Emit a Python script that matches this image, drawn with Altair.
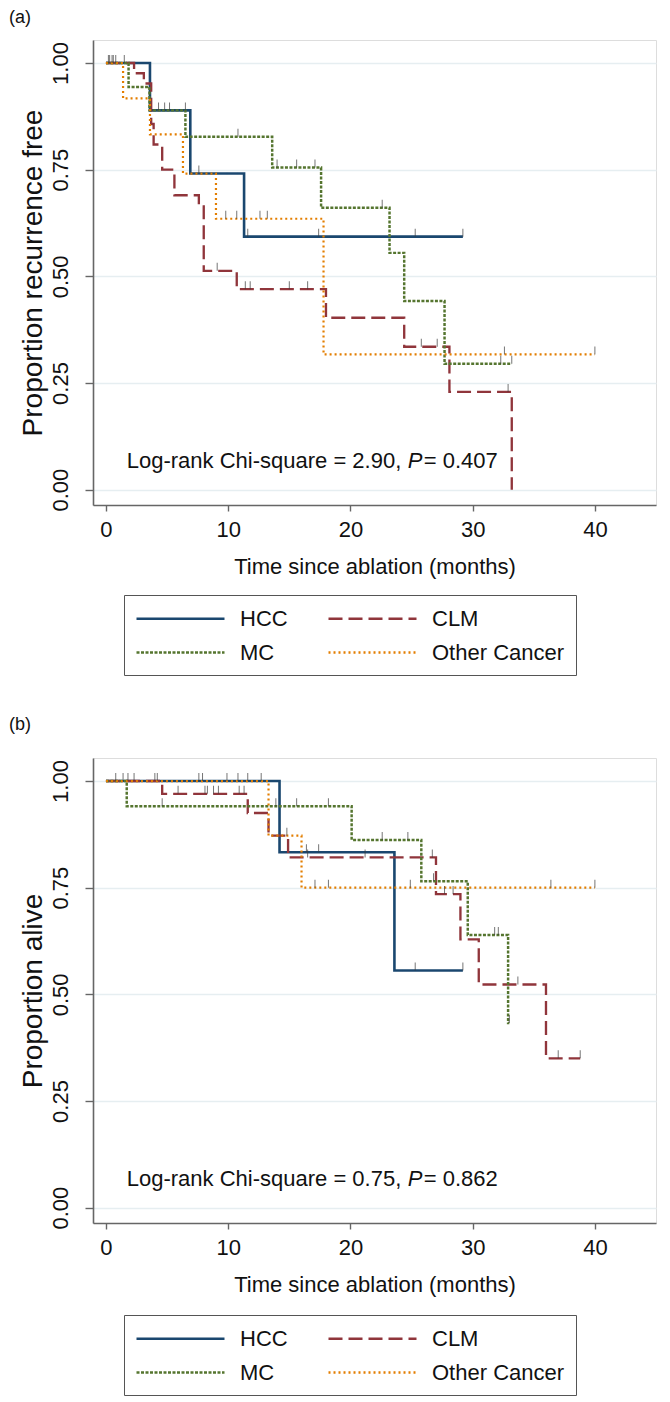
import altair as alt
import pandas as pd

FONT = "Liberation Sans"
GROUPS = ["HCC", "MC", "CLM", "Other Cancer"]
COLORS = ["#1a476f", "#55752f", "#90353b", "#e37e00"]
DASHES = [[1, 0], [3, 1.5], [14, 6], [2, 3]]
WIDTHS = [2.6, 2.2, 2.6, 2.2]

X_TICKS = [0, 10, 20, 30, 40]
Y_TICKS = [0.0, 0.25, 0.5, 0.75, 1.0]

# ---- Panel (a): recurrence free ----
a_hcc_t = [0, 3.6, 6.9, 11.3]
a_hcc_s = [1.0, 0.889, 0.741, 0.593]
a_hcc_end = 29.2
a_hcc_c = [0.3, 0.6, 4.3, 4.8, 5.2, 6.5, 7.6, 11.6, 17.4, 25.3, 29.2]

a_clm_t = [0, 2.3, 3.1, 3.7, 3.9, 4.6, 5.6, 7.6, 8.0, 10.7, 18.0, 24.4, 28.1, 33.2]
a_clm_s = [1.0, 0.976, 0.952, 0.857, 0.809, 0.75, 0.69, 0.664, 0.513, 0.47, 0.403, 0.335, 0.229, 0.0]
a_clm_end = 33.2
a_clm_c = [9.1, 11.4, 11.8, 15.0, 16.5, 25.8, 27.1, 32.9]

a_mc_t = [0, 1.85, 3.56, 6.5, 13.6, 17.6, 23.2, 24.4, 27.7]
a_mc_s = [1.0, 0.944, 0.889, 0.827, 0.755, 0.661, 0.555, 0.442, 0.295]
a_mc_end = 33.2
a_mc_c = [0.5, 1.5, 10.8, 14.0, 15.6, 17.1, 22.6, 32.3, 33.2]

a_oth_t = [0, 1.4, 3.6, 6.3, 9.0, 17.8]
a_oth_s = [1.0, 0.917, 0.833, 0.741, 0.635, 0.317]
a_oth_end = 40.0
a_oth_c = [0.2, 0.8, 9.8, 10.7, 12.6, 13.2, 32.6, 40.0]

# ---- Panel (b): overall survival ----
b_hcc_t = [0, 14.2, 23.6]
b_hcc_s = [1.0, 0.833, 0.556]
b_hcc_end = 29.2
b_hcc_c = [0.8, 2.3, 4.2, 7.9, 10.8, 12.7, 16.4, 17.4, 25.3, 29.2]

b_clm_t = [0, 4.6, 11.6, 13.3, 14.9, 27.0, 29.0, 30.5, 36.0]
b_clm_s = [1.0, 0.970, 0.925, 0.872, 0.821, 0.735, 0.629, 0.523, 0.35]
b_clm_end = 38.8
b_clm_c = [1.8, 5.9, 8.1, 8.3, 8.8, 9.2, 10.9, 11.3, 16.5, 21.2, 26.7, 27.7, 28.4, 33.7, 37.0, 38.8]

b_mc_t = [0, 1.7, 20.1, 25.8, 29.6, 32.9]
b_mc_s = [1.0, 0.941, 0.862, 0.765, 0.639, 0.433]
b_mc_end = 33.0
b_mc_c = [4.6, 13.9, 15.6, 18.2, 22.6, 24.7, 26.8, 31.8, 32.1, 33.0]

b_oth_t = [0, 13.3, 16.0]
b_oth_s = [1.0, 0.872, 0.75]
b_oth_end = 40.0
b_oth_c = [1.4, 4.0, 7.6, 9.9, 11.6, 14.8, 17.1, 18.2, 24.9, 36.4, 40.0]

A_STAT = ["Log-rank Chi-square = 2.90, ", "P", "= 0.407"]
B_STAT = ["Log-rank Chi-square = 0.75, ", "P", "= 0.862"]


def surv_at(times, surv, t):
    s = surv[0]
    for ti, si in zip(times, surv):
        if ti <= t:
            s = si
    return s


def build(curves):
    line_rows, cens_rows = [], []
    for g, (times, surv, end, cens) in curves:
        for ti, si in zip(times, surv):
            line_rows.append({"t": ti, "s": si, "g": g})
        line_rows.append({"t": end, "s": surv[-1], "g": g})
        for c in cens:
            cens_rows.append({"t": c, "s": surv_at(times, surv, c), "g": g})
    return pd.DataFrame(line_rows), pd.DataFrame(cens_rows)


def panel(curves, ytitle, letter, letter_y, stat, legend_y):
    lines_df, cens_df = build(curves)
    xs = alt.Scale(domain=[-1.06, 45.0], nice=False, zero=False)
    ys = alt.Scale(domain=[-0.036, 1.054], nice=False, zero=False)
    x_axis = alt.Axis(values=X_TICKS, title="Time since ablation (months)", grid=False,
                      tickSize=6, labelPadding=8, labelFontSize=22, titleFontSize=22,
                      titlePadding=16, titleFontWeight="normal")
    y_axis = alt.Axis(values=Y_TICKS, format=".2f", title=ytitle, grid=True,
                      gridColor="#e6eef1", gridWidth=1.5, tickSize=8, labelPadding=13,
                      labelAngle=270, labelAlign="center", labelBaseline="bottom",
                      labelFontSize=22, titleFontSize=28, titlePadding=2,
                      titleFontWeight="normal")
    leg = alt.Legend(title=None, orient="none", legendX=31, legendY=legend_y, columns=2,
                     symbolType="M-1,0H7", symbolSize=484, symbolStrokeWidth=2.5,
                     labelFontSize=22, labelFont=FONT, labelColor="#111111",
                     labelOffset=80, columnPadding=35, rowPadding=10, padding=11,
                     strokeColor="#555555", fillColor="white")
    x = alt.X("t:Q", scale=xs, axis=x_axis)
    y = alt.Y("s:Q", scale=ys, axis=y_axis)
    lines = alt.Chart(lines_df).mark_line(interpolate="step-after").encode(
        x=x, y=y,
        color=alt.Color("g:N", scale=alt.Scale(domain=GROUPS, range=COLORS), legend=leg),
        strokeDash=alt.StrokeDash("g:N", scale=alt.Scale(domain=GROUPS, range=DASHES), legend=leg),
        strokeWidth=alt.StrokeWidth("g:N", scale=alt.Scale(domain=GROUPS, range=WIDTHS), legend=None),
    )
    ticks = alt.Chart(cens_df).mark_tick(orient="vertical", size=8, thickness=1,
                                         color="#3a3a3a", yOffset=-4).encode(x=x, y=y)
    txt_df = pd.DataFrame({"t": [1.7], "s": [0.067]})
    base_txt = alt.Chart(txt_df)
    t1 = base_txt.mark_text(text=stat[0], align="left", baseline="middle", fontSize=22,
                            font=FONT, color="#111111").encode(x=x, y=y)
    t2 = base_txt.mark_text(text=stat[1], align="left", baseline="middle", fontSize=22,
                            font=FONT, fontStyle="italic", color="#111111", dx=281).encode(x=x, y=y)
    t3 = base_txt.mark_text(text=stat[2], align="left", baseline="middle", fontSize=22,
                            font=FONT, color="#111111", dx=297).encode(x=x, y=y)
    lab = alt.Chart(txt_df).mark_text(text=letter, align="left", baseline="top", fontSize=18,
                                      font=FONT, color="#111111").encode(
        x=alt.value(-84), y=alt.value(letter_y))
    return alt.layer(lines, ticks, t1, t2, t3, lab).properties(width=563, height=465)


curves_a = [("HCC", (a_hcc_t, a_hcc_s, a_hcc_end, a_hcc_c)),
            ("CLM", (a_clm_t, a_clm_s, a_clm_end, a_clm_c)),
            ("MC", (a_mc_t, a_mc_s, a_mc_end, a_mc_c)),
            ("Other Cancer", (a_oth_t, a_oth_s, a_oth_end, a_oth_c))]
curves_b = [("HCC", (b_hcc_t, b_hcc_s, b_hcc_end, b_hcc_c)),
            ("CLM", (b_clm_t, b_clm_s, b_clm_end, b_clm_c)),
            ("MC", (b_mc_t, b_mc_s, b_mc_end, b_mc_c)),
            ("Other Cancer", (b_oth_t, b_oth_s, b_oth_end, b_oth_c))]

pa = panel(curves_a, "Proportion recurrence free", "(a)", -31, A_STAT, 555)
pb = panel(curves_b, "Proportion alive", "(b)", -42, B_STAT, 557)

chart = alt.vconcat(pa, pb, spacing=39).resolve_scale(
    color="independent", strokeDash="independent"
).properties(padding={"left": 0, "top": 0, "right": 0, "bottom": 0}).configure_view(
    stroke=None
).configure(font=FONT).configure_axis(
    domainColor="#666666", domainWidth=1.6, tickColor="#666666", tickWidth=1.4,
    labelColor="#111111", titleColor="#111111", labelFont=FONT, titleFont=FONT
)

chart.save("out.html", embed_options={"renderer": "svg", "actions": False})
